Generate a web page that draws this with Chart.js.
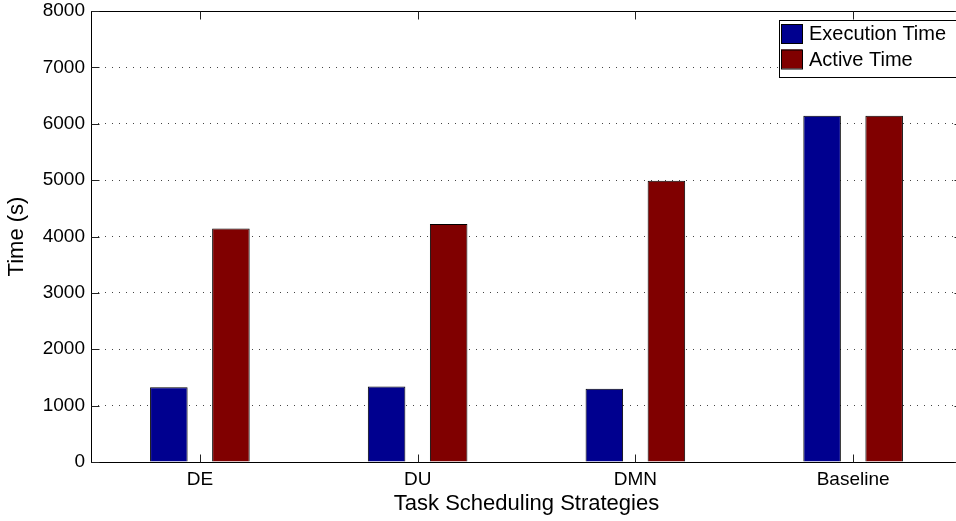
<!DOCTYPE html>
<html>
<head>
<meta charset="utf-8">
<script src="https://cdn.jsdelivr.net/npm/chart.js@4/dist/chart.umd.min.js"></script>
<style>
  html, body { margin: 0; padding: 0; background: #fff; overflow: hidden; }
  #wrap { width: 966px; height: 521px; }
</style>
</head>
<body>
<div id="wrap"><canvas id="c" width="966" height="521"></canvas></div>
<script>
// Task scheduling strategies and their measured times (seconds)
const strategies = ['DE', 'DU', 'DMN', 'Baseline'];
const executionTime = [1325, 1338, 1298, 6140];
const activeTime = [4143, 4222, 4988, 6140];
const yTicks = [0, 1000, 2000, 3000, 4000, 5000, 6000, 7000, 8000];

const FONT = '"Liberation Sans", Arial, Helvetica, sans-serif';

// Box around the axes plus inward tick marks on every side
const framePlugin = {
  id: 'frame',
  afterDatasetsDraw(chart) {
    const { ctx, chartArea: a, scales } = chart;
    ctx.save();
    ctx.strokeStyle = '#000';
    ctx.lineWidth = 1;
    const L = Math.round(a.left) + 0.5, R = Math.round(a.right) + 0.5;
    const T = Math.round(a.top) + 0.5, B = Math.round(a.bottom) + 0.5;
    ctx.beginPath();
    ctx.rect(L, T, R - L, B - T);
    ctx.stroke();
    const tl = 8;
    ctx.strokeStyle = '#222';
    ctx.beginPath();
    yTicks.forEach(v => {
      const y = Math.round(scales.y.getPixelForValue(v)) + 0.5;
      ctx.moveTo(L, y); ctx.lineTo(L + tl, y);
      ctx.moveTo(R, y); ctx.lineTo(R - tl, y);
    });
    strategies.forEach((s, i) => {
      const x = Math.round(scales.x.getPixelForValue(i)) + 0.5;
      ctx.moveTo(x, B); ctx.lineTo(x, B - tl);
      ctx.moveTo(x, T); ctx.lineTo(x, T + tl);
    });
    ctx.stroke();
    ctx.restore();
  }
};

// Boxed legend in the upper right corner of the axes
const boxLegend = {
  id: 'boxLegend',
  afterDraw(chart) {
    const { ctx, chartArea: a } = chart;
    const ds = chart.data.datasets;
    const right = a.right - 3, top = a.top + 9;
    const left = right - 180, h = 57;
    ctx.save();
    ctx.fillStyle = '#fff';
    ctx.fillRect(left, top, right - left, h);
    ctx.strokeStyle = '#000';
    ctx.lineWidth = 1;
    ctx.strokeRect(Math.round(left) + 0.5, Math.round(top) + 0.5, right - left, h);
    ctx.font = '20px ' + FONT;
    ctx.textBaseline = 'middle';
    ds.forEach((d, i) => {
      const sy = top + 4 + i * 25.5;
      ctx.fillStyle = d.backgroundColor;
      ctx.fillRect(left + 2, sy, 21, 19);
      ctx.strokeStyle = '#000';
      ctx.strokeRect(left + 2.5, sy + 0.5, 21, 19);
      ctx.fillStyle = '#000';
      ctx.fillText(d.label, left + 30, sy + 10.5);
    });
    ctx.restore();
  }
};

new Chart(document.getElementById('c'), {
  type: 'bar',
  data: {
    labels: strategies,
    datasets: [
      {
        label: 'Execution Time',
        data: executionTime,
        backgroundColor: '#00008f',
        borderColor: '#000',
        borderWidth: 1,
        categoryPercentage: 0.57,
        barPercentage: 0.605
      },
      {
        label: 'Active Time',
        data: activeTime,
        backgroundColor: '#800000',
        borderColor: '#000',
        borderWidth: 1,
        categoryPercentage: 0.57,
        barPercentage: 0.605
      }
    ]
  },
  options: {
    responsive: false,
    animation: false,
    devicePixelRatio: 1,
    layout: { padding: { left: 0, top: 11, right: 4, bottom: 0 } },
    plugins: {
      legend: { display: false },
      tooltip: { enabled: false }
    },
    scales: {
      x: {
        grid: { display: false, drawTicks: false },
        border: { display: false },
        ticks: { color: '#000', font: { family: FONT, size: 19 }, padding: 6 },
        title: {
          display: true,
          text: 'Task Scheduling Strategies',
          color: '#000',
          font: { family: FONT, size: 22 },
          padding: { top: 0, bottom: 4 }
        },
        afterFit(scale) {
          scale.height = 59;
          scale.paddingLeft = 0;
          scale.paddingRight = 0;
        }
      },
      y: {
        min: 0,
        max: 8000,
        afterBuildTicks(scale) { scale.ticks = yTicks.map(v => ({ value: v })); },
        grid: { color: '#444', lineWidth: 1, drawTicks: false },
        border: { display: false, dash: [1, 6] },
        ticks: {
          color: '#000',
          font: { family: FONT, size: 19 },
          padding: 6,
          callback: v => String(v)
        },
        title: {
          display: true,
          text: 'Time (s)',
          color: '#000',
          font: { family: FONT, size: 22 },
          padding: { top: 4, bottom: 0 }
        },
        afterFit(scale) {
          scale.width = 91;
          scale.paddingTop = 0;
          scale.paddingBottom = 0;
        }
      }
    }
  },
  plugins: [framePlugin, boxLegend]
});
</script>
</body>
</html>
